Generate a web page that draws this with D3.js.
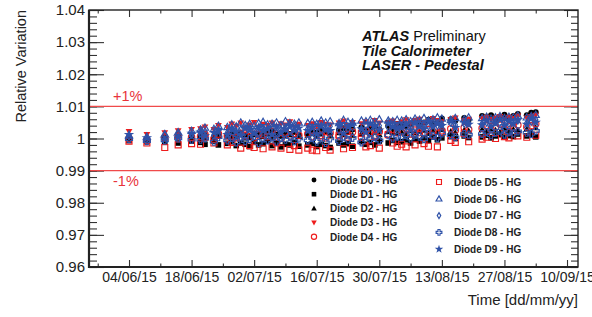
<!DOCTYPE html>
<html>
<head>
<meta charset="utf-8">
<script src="https://cdn.jsdelivr.net/npm/d3@7"></script>
<style>
  body { margin: 0; background: #fff; }
  svg { display: block; font-family: "Liberation Sans", Arial, Helvetica, sans-serif; }
</style>
</head>
<body>
<div id="chart"></div>
<script>
// measurement days (dd/mm/yy)
const dates = [
  "04/06/15", "08/06/15", "12/06/15", "15/06/15", "18/06/15",
  "20/06/15", "21/06/15", "23/06/15", "24/06/15", "26/06/15", "27/06/15", "28/06/15", "29/06/15", "30/06/15", "01/07/15", "02/07/15",
  "03/07/15", "04/07/15", "05/07/15", "06/07/15", "07/07/15", "08/07/15", "09/07/15", "10/07/15", "11/07/15", "12/07/15",
  "14/07/15", "15/07/15", "16/07/15", "17/07/15", "18/07/15", "19/07/15", "21/07/15", "22/07/15", "23/07/15", "24/07/15",
  "26/07/15", "27/07/15", "28/07/15", "29/07/15", "30/07/15", "01/08/15", "02/08/15", "03/08/15",
  "04/08/15", "05/08/15", "06/08/15", "07/08/15", "08/08/15", "09/08/15", "10/08/15", "11/08/15", "12/08/15", "13/08/15",
  "15/08/15", "16/08/15", "18/08/15", "19/08/15",
  "22/08/15", "23/08/15", "24/08/15", "25/08/15", "26/08/15", "27/08/15", "28/08/15", "29/08/15", "30/08/15",
  "01/09/15", "02/09/15", "03/09/15",
];

// relative variation - 1, in units of 1e-4, one value per day above
const diodeD0 = [2, -4, 6, 12, 8,
  5, 10, 3, 12, 8, 15, 6, 18, 10, 4, 14, 9, 20, 16, 25, 12, 8, 18, 14, 22, 10,
  15, 24, 18, 30, 22, 12, 26, 32, 20, 28, 35, 24, 30, 38, 28, 40, 33, 45,
  48, 38, 44, 55, 42, 50, 58, 46, 52, 62, 60, 55, 64, 58,
  70, 66, 72, 60, 68, 74, 65, 70, 76, 72, 80, 82];
const diodeD1 = [-6, -10, -12, -14, -8,
  -12, -18, -8, -20, -15, -10, -22, -14, -18, -25, -12, -20, -16, -8, -22, -14, -26, -18, -20, -12, -24,
  -20, -15, -25, -18, -22, -28, -14, -20, -16, -24, -10, -18, -12, -20, -8, -14, -6, -12,
  -10, -4, -14, -2, -8, 0, -6, 4, -4, 2, 6, 0, 8, 3,
  5, 10, 2, 8, 12, 4, 9, 6, 14, 8, 10, 5];
const diodeD2 = [4, 0, 8, 10, 6,
  8, 2, 12, 6, 14, 4, 10, 16, 2, 8, 12, 18, 6, 14, 4, 10, 16, 8, 12, 20, 6,
  10, 16, 6, 14, 20, 8, 18, 12, 22, 10, 16, 24, 14, 20, 12, 22, 18, 16,
  20, 14, 24, 18, 22, 26, 16, 24, 20, 28, 22, 18, 26, 24,
  28, 22, 30, 26, 20, 32, 24, 28, 26, 30, 22, 34];
const diodeD3 = [22, 12, 18, 24, 28,
  30, 36, 28, 40, 34, 45, 38, 48, 32, 42, 50, 36, 44, 40, 48, 38, 46, 42, 52, 36, 44,
  40, 46, 38, 50, 44, 42, 48, 54, 40, 50, 46, 52, 44, 56, 48, 50, 54, 46,
  52, 58, 48, 56, 60, 50, 54, 62, 56, 52, 58, 64, 56, 60,
  62, 66, 58, 64, 68, 60, 66, 62, 70, 64, 68, 72];
const diodeD4 = [0, -6, 2, 6, 4,
  6, 12, -2, 14, 8, 20, 4, 16, 10, 24, 2, 18, 12, 6, 22, 14, 0, 20, 8, 16, 10,
  14, 6, 22, 10, 2, 18, 8, 26, 12, 20, 4, 24, 16, 10, 22, 14, 28, 18,
  20, 30, 14, 26, 32, 18, 28, 22, 36, 24, 30, 26, 34, 28,
  32, 40, 28, 36, 44, 30, 38, 34, 42, 36, 40, 46];
const diodeD5 = [-8, -14, -28, -20, -16,
  -18, 4, -14, 10, -20, -12, 2, -30, 8, -22, -28, 12, -32, 6, -26, -14, -30, 14, -34, -22, -36,
  -30, -36, -38, 8, -28, -36, 10, -32, 4, -28, 16, -26, -22, 6, -30, 12, -14, -24,
  -18, -26, 14, -20, 18, -16, -24, 10, -26, 20, -6, -12, 16, -10,
  -2, 4, 56, 0, 60, 6, 2, 52, 8, 4, 58, 10];
const diodeD6 = [10, 6, 14, 20, 24,
  28, 34, 30, 40, 36, 44, 38, 50, 42, 46, 40, 48, 52, 44, 46, 50, 42, 54, 48, 46, 50,
  48, 52, 46, 56, 50, 54, 48, 58, 52, 50, 56, 54, 58, 52, 60, 56, 54, 58,
  56, 60, 54, 62, 58, 64, 56, 60, 66, 62, 58, 64, 60, 66,
  64, 68, 62, 66, 70, 64, 68, 66, 72, 66, 70, 74];
const diodeD7 = [6, -2, 10, 14, 12,
  16, 22, 10, 26, 18, 30, 14, 28, 20, 34, 24, 16, 30, 22, 36, 18, 28, 32, 24, 38, 26,
  30, 20, 36, 26, 32, 38, 24, 40, 30, 34, 28, 42, 36, 32, 40, 34, 44, 38,
  40, 36, 44, 34, 46, 42, 38, 48, 40, 44, 50, 42, 46, 48,
  46, 50, 44, 52, 48, 54, 46, 50, 56, 48, 52, 58];
const diodeD8 = [-2, -8, -6, 0, -4,
  -4, 0, -10, 4, -6, 2, -12, 6, -8, -2, 8, -14, 0, -6, 4, -10, 2, -4, 6, -8, 0,
  -6, 2, -10, 4, -14, 0, -8, 6, -4, 2, -12, 8, -2, 4, -6, 10, 0, 6,
  4, 10, 0, 12, 6, -2, 14, 8, 2, 16, 10, 4, 14, 12,
  14, 20, 10, 18, 24, 12, 20, 16, 22, 18, 14, 24];
const diodeD9 = [12, 2, -2, 4, 16,
  20, 8, 18, 24, 12, 28, 22, 10, 32, 26, 16, 34, 24, 30, 12, 36, 20, 28, 40, 26, 32,
  24, 34, 14, 40, 28, 24, 42, 16, 36, 44, 30, 20, 46, 38, 26, 48, 36, 30,
  34, 44, 26, 50, 38, 30, 52, 36, 46, 40, 54, 34, 50, 44,
  42, 56, 36, 48, 60, 40, 54, 46, 58, 44, 62, 50];

const diodeNames = ["Diode D0 - HG", "Diode D1 - HG", "Diode D2 - HG", "Diode D3 - HG", "Diode D4 - HG",
  "Diode D5 - HG", "Diode D6 - HG", "Diode D7 - HG", "Diode D8 - HG", "Diode D9 - HG"];
const xTickLabels = ["04/06/15", "18/06/15", "02/07/15", "16/07/15", "30/07/15", "13/08/15", "27/08/15", "10/09/15"];
const yTicks = [0.96, 0.97, 0.98, 0.99, 1, 1.01, 1.02, 1.03, 1.04];
const bands = [{ value: 1.01, label: "+1%" }, { value: 0.99, label: "-1%" }];

const series = [diodeD0, diodeD1, diodeD2, diodeD3, diodeD4, diodeD5, diodeD6, diodeD7, diodeD8, diodeD9];

const RED = "#ee1c1c", BLUE = "#2f52a8";
// plot markers (a bit larger than the legend ones)
const markerStyles = [
  { shape: "circle", r: 3.0, color: "#000", filled: true },
  { shape: "square", r: 2.8, color: "#000", filled: true },
  { shape: "triangle", r: 3.4, color: "#000", filled: true },
  { shape: "triangleDown", r: 3.4, color: RED, filled: true },
  { shape: "circle", r: 3.2, color: RED, filled: false },
  { shape: "square", r: 3.0, color: RED, filled: false },
  { shape: "triangle", r: 3.6, color: BLUE, filled: false },
  { shape: "diamond", r: 3.6, color: BLUE, filled: false },
  { shape: "cross", r: 3.5, color: BLUE, filled: false },
  { shape: "star", r: 3.6, color: BLUE, filled: true },
];
const legendScale = 0.82;

const width = 592,
  height = 317,
  frame = { left: 89, right: 578, top: 10, bottom: 267 },
  parseDay = d3.timeParse("%d/%m/%y"),
  svg = d3.select("#chart").append("svg").attr("width", width).attr("height", height);

const xScale = d3
  .scaleTime()
  .domain([new Date(2015, 4, 26, 1, 10), new Date(2015, 8, 12, 11, 0)])
  .range([frame.left, frame.right]);
const yScale = d3.scaleLinear().domain([0.96, 1.04]).range([frame.bottom, frame.top]);

const xMajor = xTickLabels.map(parseDay);
const xMinor = xMajor
  .map((d) => d3.timeDay.offset(d, -7))
  .filter((d) => d >= xScale.domain()[0]);
const yMinor = d3.range(0, 41).map((i) => 0.96 + i * 0.002);

function markerPath(shape, r) {
  switch (shape) {
    case "circle":
      return d3.symbol(d3.symbolCircle, Math.PI * r * r)();
    case "square":
      return `M${-r},${-r}h${2 * r}v${2 * r}h${-2 * r}Z`;
    case "triangle":
      return `M0,${-r}L${r},${r * 0.75}L${-r},${r * 0.75}Z`;
    case "triangleDown":
      return `M0,${r}L${r},${-r * 0.75}L${-r},${-r * 0.75}Z`;
    case "diamond":
      return `M0,${-r}L${r * 0.6},0L0,${r}L${-r * 0.6},0Z`;
    case "cross": {
      const a = r * 0.36;
      return `M${-a},${-r}H${a}V${-a}H${r}V${a}H${a}V${r}H${-a}V${a}H${-r}V${-a}H${-a}Z`;
    }
    case "star":
      return d3.symbol(d3.symbolStar, r * r * 2.6)();
  }
}

function styleMarker(sel, st, k = 1) {
  sel
    .attr("d", markerPath(st.shape, st.r * k))
    .attr("fill", st.filled ? st.color : "none")
    .attr("stroke", st.filled ? "none" : st.color)
    .attr("stroke-width", 1.15);
}

// tick marks, all pointing into the frame
function ticks(axis, values, size, transform) {
  const g = svg
    .append("g")
    .attr("transform", transform)
    .call(axis.tickValues(values).tickSize(size).tickSizeOuter(0).tickFormat(""));
  g.select(".domain").remove();
  g.selectAll("line").attr("stroke", "#333").attr("stroke-width", 1.1);
  g.selectAll("text").remove();
}

ticks(d3.axisTop(xScale), xMajor, 7, `translate(0,${frame.bottom})`);
ticks(d3.axisTop(xScale), xMinor, 3.5, `translate(0,${frame.bottom})`);
ticks(d3.axisBottom(xScale), xMajor, 7, `translate(0,${frame.top})`);
ticks(d3.axisBottom(xScale), xMinor, 3.5, `translate(0,${frame.top})`);
ticks(d3.axisRight(yScale), yTicks, 15, `translate(${frame.left},0)`);
ticks(d3.axisRight(yScale), yMinor, 8, `translate(${frame.left},0)`);
ticks(d3.axisLeft(yScale), yTicks, 14, `translate(${frame.right},0)`);
ticks(d3.axisLeft(yScale), yMinor, 7, `translate(${frame.right},0)`);

// tick labels
const xLab = svg
  .append("g")
  .attr("transform", `translate(0,${frame.bottom})`)
  .call(d3.axisBottom(xScale).tickValues(xMajor).tickSize(0).tickPadding(5).tickFormat(d3.timeFormat("%d/%m/%y")));
xLab.select(".domain").remove();
xLab.selectAll("text").attr("font-size", 14).attr("fill", "#222").attr("font-family", null);

const yLab = svg
  .append("g")
  .attr("transform", `translate(${frame.left},0)`)
  .call(d3.axisLeft(yScale).tickValues(yTicks).tickSize(0).tickPadding(4).tickFormat((d) => (d === 1 ? "1" : d3.format(".2f")(d))));
yLab.select(".domain").remove();
yLab.selectAll("text").attr("font-size", 15).attr("fill", "#222").attr("font-family", null);

// +-1% lines
bands.forEach((b, i) => {
  svg
    .append("line")
    .attr("x1", frame.left)
    .attr("x2", frame.right)
    .attr("y1", yScale(b.value))
    .attr("y2", yScale(b.value))
    .attr("stroke", "#f04a4a")
    .attr("stroke-width", 1.4);
  svg
    .append("text")
    .attr("x", 113)
    .attr("y", i === 0 ? yScale(b.value) - 5 : yScale(b.value) + 15)
    .attr("font-size", 14.5)
    .attr("fill", "#e8333a")
    .text(b.label);
});

// data points, one diode after the other
const times = dates.map(parseDay);
series.forEach((values, k) => {
  svg
    .append("g")
    .selectAll("path")
    .data(values)
    .join("path")
    .call(styleMarker, markerStyles[k])
    .attr("transform", (v, i) => `translate(${xScale(times[i])},${yScale(1 + v / 1e4)})`);
});

// frame
svg
  .append("rect")
  .attr("x", frame.left)
  .attr("y", frame.top)
  .attr("width", frame.right - frame.left)
  .attr("height", frame.bottom - frame.top)
  .attr("fill", "none")
  .attr("stroke", "#222")
  .attr("stroke-width", 1.4);
svg
  .append("path")
  .attr("d", `M${frame.left},${frame.top}V${frame.bottom}H${frame.right}`)
  .attr("fill", "none")
  .attr("stroke", "#222")
  .attr("stroke-width", 2.2);

// axis titles
svg
  .append("text")
  .attr("x", frame.right)
  .attr("y", 305)
  .attr("text-anchor", "end")
  .attr("font-size", 15)
  .attr("fill", "#222")
  .text("Time [dd/mm/yy]");
svg
  .append("text")
  .attr("transform", `translate(26,${frame.top}) rotate(-90)`)
  .attr("text-anchor", "end")
  .attr("font-size", 14.5)
  .attr("fill", "#222")
  .text("Relative Variation");

// ATLAS label
const atlas = svg.append("text").attr("x", 362).attr("y", 41).attr("font-size", 14.5).attr("fill", "#111");
atlas.append("tspan").attr("font-weight", "bold").attr("font-style", "italic").text("ATLAS");
atlas.append("tspan").text(" Preliminary");
["Tile Calorimeter", "LASER - Pedestal"].forEach((t, i) => {
  svg
    .append("text")
    .attr("x", 362)
    .attr("y", 55.5 + i * 14.5)
    .attr("font-size", 14.5)
    .attr("font-weight", "bold")
    .attr("font-style", "italic")
    .attr("fill", "#111")
    .text(t);
});

// legend, two columns
const legendCols = [
  { mx: 314, tx: 330, y0: 180, dy: 14.2 },
  { mx: 439, tx: 454, y0: 182, dy: 16.8 },
];
diodeNames.forEach((name, k) => {
  const col = legendCols[k < 5 ? 0 : 1],
    y = col.y0 + (k % 5) * col.dy;
  svg
    .append("path")
    .call(styleMarker, markerStyles[k], legendScale)
    .attr("transform", `translate(${col.mx},${y})`);
  svg
    .append("text")
    .attr("x", col.tx)
    .attr("y", y + 3.7)
    .attr("font-size", 10)
    .attr("font-weight", "bold")
    .attr("fill", "#222")
    .text(name);
});
</script>
</body>
</html>
